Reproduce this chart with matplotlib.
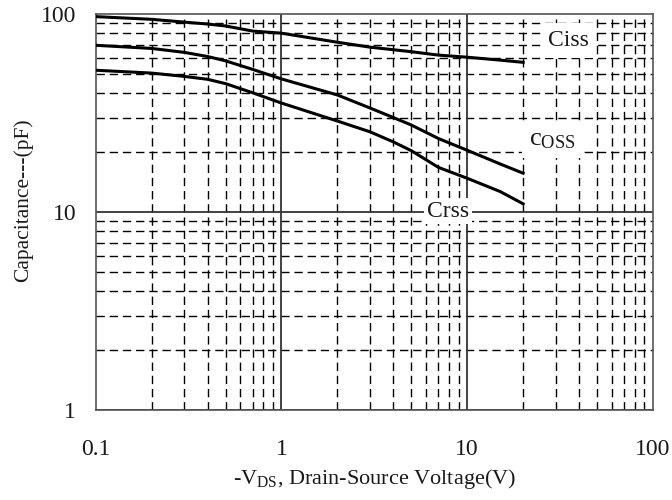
import numpy as np
import matplotlib.pyplot as plt
from matplotlib.ticker import FixedLocator, FixedFormatter, NullLocator

plt.rcParams['font.family'] = ['Liberation Serif', 'DejaVu Serif']
plt.rcParams['mathtext.fontset'] = 'custom'
plt.rcParams['mathtext.rm'] = 'Liberation Serif'
plt.rcParams['mathtext.it'] = 'Liberation Serif:italic'

# capacitance vs drain-source voltage (pF)
vds = [0.1, 0.2, 0.3, 0.4, 0.5, 0.7, 1, 2, 3, 4, 5, 7, 10, 15, 20]
ciss = [97, 94, 91, 89, 87, 82, 80, 72, 68, 66, 64.5, 62, 60.5, 58.5, 57]
coss = [69.5, 67, 64, 61, 58, 52.5, 47, 39, 33.5, 30, 27.5, 23.5, 20.5, 17.5, 15.7]
crss = [52, 50.3, 48.4, 46.8, 44.5, 40, 35.5, 28.8, 25.4, 22.6, 20.4, 16.8, 14.8, 12.7, 11]

x_ticks = [0.1, 1, 10, 100]
x_labels = ['0.1', '1', '10', '100']
y_ticks = [1, 10, 100]
y_labels = ['1', '10', '100']

txt = '#1a1a1a'

fig = plt.figure(figsize=(6.72, 5), dpi=100)
ax = fig.add_axes([0.1424, 0.18, 0.8293, 0.792])
ax.set_xscale('log')
ax.set_yscale('log')
ax.set_xlim(0.1, 100)
ax.set_ylim(1, 100)

# dashed minor grid, solid decade lines
for d in [0.1, 1, 10]:
    for m in range(2, 10):
        ax.axvline(d * m, color='black', lw=1.0, dashes=(6, 3.5), zorder=1)
for d in [1, 10]:
    for m in range(2, 10):
        ax.axhline(d * m, color='black', lw=1.0, dashes=(6, 3.5), zorder=1)
for v in [1, 10]:
    ax.axvline(v, color='#333333', lw=1.3, zorder=1.5)
    ax.axhline(v, color='#333333', lw=1.3, zorder=1.5)

ax.plot(vds, ciss, color='black', lw=2.2, zorder=3)
ax.plot(vds, coss, color='black', lw=2.2, zorder=3)
ax.plot(vds, crss, color='black', lw=2.2, zorder=3)

ax.text(35.2, 73.5, 'Ciss', fontsize=17, color=txt, ha='center', va='center',
        bbox=dict(facecolor='white', edgecolor='none', pad=5), zorder=4)
ax.text(28.8, 23, r'c$_{\mathrm{OSS}}$', fontsize=19, color=txt, ha='center', va='center',
        bbox=dict(facecolor='white', edgecolor='none', pad=5), zorder=4)
ax.text(7.85, 10.1, 'Crss', fontsize=17, color=txt, ha='center', va='center',
        bbox=dict(facecolor='white', edgecolor='none', pad=2), zorder=4)

ax.xaxis.set_major_locator(FixedLocator(x_ticks))
ax.xaxis.set_major_formatter(FixedFormatter(x_labels))
ax.yaxis.set_major_locator(FixedLocator(y_ticks))
ax.yaxis.set_major_formatter(FixedFormatter(y_labels))
ax.xaxis.set_minor_locator(NullLocator())
ax.yaxis.set_minor_locator(NullLocator())
ax.tick_params(axis='x', length=0, pad=21, labelsize=17, labelcolor=txt)
ax.tick_params(axis='y', length=0, pad=14, labelsize=17, labelcolor=txt)

for s in ax.spines.values():
    s.set_color('#555555')
    s.set_linewidth(1.2)

ax.set_xlabel(r'-V$_{\mathrm{DS}}$, Drain-Source Voltage(V)', fontsize=16, color=txt)
ax.set_ylabel('Capacitance---(pF)', fontsize=15.5, color=txt)
ax.xaxis.set_label_coords(0.5, -0.145)
ax.yaxis.set_label_coords(-0.112, 0.53)

fig.savefig('out.png', dpi=100)
